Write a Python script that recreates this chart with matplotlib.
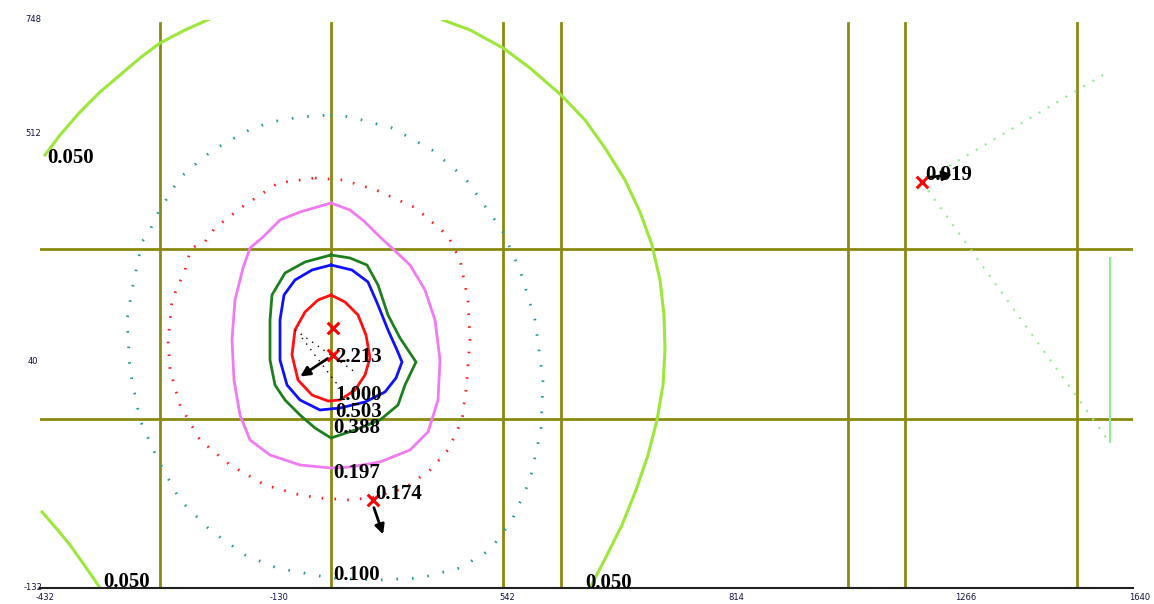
import matplotlib
matplotlib.use('Agg')
import matplotlib.pyplot as plt
import numpy as np

# Grid lines (local units, origin at lower-left corner of plot)
grid_x = [120, 291, 463, 521, 808, 865, 1037]
grid_y = [169, 339]

# Contour lines: (x, y) vertices
c050_a = [(5, 433), (20, 453), (40, 476), (60, 496), (80, 513), (100, 530),
          (120, 545), (145, 558), (172, 570)]
c050_b = [(403, 568), (430, 558), (463, 540), (490, 520), (521, 493), (545, 468),
          (565, 440), (585, 408), (600, 376), (612, 343), (620, 308), (624, 273),
          (625, 238), (623, 203), (617, 168), (608, 133), (596, 98), (582, 63),
          (567, 33), (550, 0)]
c050_c = [(2, 76), (16, 60), (30, 43), (45, 22), (60, 0)]
c100 = [(290, 473), (311, 471), (352, 460), (392, 438), (425, 410), (462, 358),
        (480, 318), (495, 268), (503, 208), (501, 158), (490, 108), (472, 68),
        (450, 38), (420, 20), (380, 10), (340, 8), (290, 10), (237, 20), (205, 33),
        (170, 58), (140, 88), (118, 128), (100, 168), (90, 218), (87, 268), (92, 298),
        (102, 346), (111, 360), (118, 375), (134, 401), (142, 412), (158, 426),
        (173, 438), (189, 447), (209, 458), (231, 466), (260, 471), (290, 473)]
c197 = [(275, 410), (303, 408), (336, 398), (376, 380), (408, 352), (420, 328),
        (428, 288), (430, 248), (426, 198), (422, 168), (408, 138), (390, 118),
        (365, 100), (335, 91), (310, 88), (280, 90), (260, 93), (225, 103), (190, 123),
        (160, 148), (140, 183), (130, 218), (128, 248), (132, 288), (145, 318),
        (151, 340), (164, 345), (175, 360), (202, 381), (238, 405), (275, 410)]
c388 = [(291, 385), (310, 378), (325, 366), (340, 351), (352, 340), (370, 323),
        (385, 298), (395, 268), (400, 228), (398, 188), (388, 156), (370, 138),
        (340, 126), (310, 121), (291, 120), (260, 123), (230, 133), (210, 148),
        (200, 173), (194, 208), (192, 248), (195, 288), (203, 320), (210, 340),
        (223, 351), (240, 368), (260, 376), (291, 385)]
c503 = [(291, 333), (310, 330), (327, 323), (338, 303), (348, 273), (360, 250),
        (376, 226), (365, 203), (358, 183), (340, 168), (315, 158), (291, 150),
        (275, 160), (260, 173), (245, 188), (235, 203), (230, 228), (230, 268),
        (232, 293), (245, 315), (265, 326), (291, 333)]
c600 = [(291, 323), (312, 318), (328, 306), (338, 283), (348, 258), (357, 238),
        (362, 226), (356, 210), (345, 196), (325, 186), (300, 180), (280, 178),
        (260, 188), (247, 203), (240, 228), (240, 268), (244, 293), (255, 308),
        (272, 318), (291, 323)]
c1000 = [(291, 293), (305, 286), (318, 273), (326, 253), (330, 230), (325, 213),
         (315, 198), (300, 188), (288, 187), (272, 193), (258, 208), (252, 233),
         (255, 258), (265, 276), (278, 288), (291, 293)]

# Sources and labels
src_x = [293, 293, 333, 882]
src_y = [260, 233, 88, 406]
arrows = [((290, 231), (258, 210)), ((333, 83), (344, 51)), ((885, 410), (915, 414))]
labels = ['0.050', '0.050', '0.050', '0.100', '0.197', '0.174', '0.388', '0.503',
          '1.000', '2.213', '0.919']
label_xy = [(7, 425), (63, 1), (545, 0), (293, 8), (293, 110), (335, 89), (293, 155),
            (295, 171), (295, 188), (295, 226), (885, 408)]
side_lines = [((882, 406), (1068, 516)), ((882, 406), (1068, 148))]
side_bar = ((1070, 330), (1070, 146))

xtick_pos = [5, 239, 467, 696, 926, 1100]
xtick_lab = ['-432', '-130', '542', '814', '1266', '1640']
ytick_pos = [568, 455, 226, 0]
ytick_lab = ['748', '512', '40', '-132']

fig = plt.figure(figsize=(11.54, 6.04), dpi=100)
ax = fig.add_axes([40 / 1154, 16 / 604, 1093 / 1154, 568 / 604])
ax.set_xlim(0, 1093)
ax.set_ylim(0, 568)

olive = '#8a8a10'
for gx in grid_x:
    ax.plot([gx, gx], [0, 565], color=olive, lw=2, zorder=1)
for gy in grid_y:
    ax.plot([0, 1093], [gy, gy], color=olive, lw=2, zorder=1)

def draw(pts, **kw):
    a = np.array(pts)
    ax.plot(a[:, 0], a[:, 1], **kw)

lime = '#9de63a'
for seg in (c050_a, c050_b, c050_c):
    draw(seg, color=lime, lw=2.2, zorder=2)
draw(c100, color='#2a9a9a', lw=2, linestyle=(0, (0.6, 5)), zorder=2)
draw(c197, color='#ff2020', lw=2, linestyle=(0, (0.6, 4)), zorder=2)
draw(c388, color='#f07af0', lw=2, zorder=2)
draw(c503, color='#1f7f1f', lw=2, zorder=2)
draw(c600, color='#1010ff', lw=2, zorder=2)
draw(c1000, color='#ff1010', lw=2, zorder=2)

# dotted radial lines near the peak
draw([(255, 258), (315, 216)], color='black', lw=1, linestyle=(0, (1, 4)), zorder=2)
draw([(262, 250), (300, 200)], color='black', lw=1, linestyle=(0, (1, 4)), zorder=2)

for (a, b) in side_lines:
    draw([a, b], color='#90ee90', lw=1.5, linestyle=(0, (1, 4)), zorder=2)
draw(list(side_bar), color='#90ee90', lw=1.5, zorder=2)

for (a, b) in arrows:
    ax.annotate('', xy=b, xytext=a,
                arrowprops=dict(arrowstyle='-|>', color='black', lw=2, mutation_scale=14),
                zorder=4)

ax.scatter(src_x, src_y, marker='x', color='red', s=70, linewidths=2.2, zorder=5)

for t, (lx, ly) in zip(labels, label_xy):
    ax.text(lx, ly, t, fontsize=15, fontweight='bold', family='Liberation Serif',
            ha='left', va='baseline', color='black', zorder=6)

for p, t in zip(xtick_pos, xtick_lab):
    ax.text(p, -10, t, fontsize=6, ha='center', va='center', color='#101040', clip_on=False)
for p, t in zip(ytick_pos, ytick_lab):
    ax.text(-7, p, t, fontsize=6, ha='center', va='center', color='#101040', clip_on=False)

for s in ['top', 'right', 'left']:
    ax.spines[s].set_visible(False)
ax.spines['bottom'].set_linewidth(1.5)
ax.spines['bottom'].set_color('#202020')
ax.set_xticks([])
ax.set_yticks([])

plt.savefig('out.png', dpi=100)
